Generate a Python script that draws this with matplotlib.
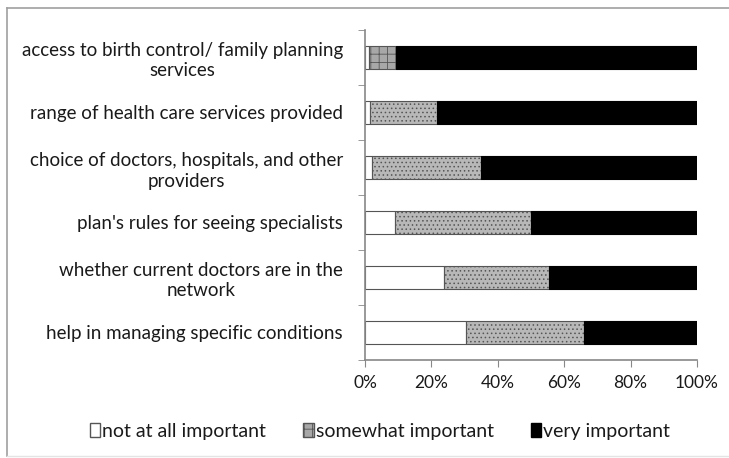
import matplotlib.pyplot as plt
from matplotlib.lines import Line2D
from matplotlib.patches import Patch

plt.rcParams['font.family'] = ['Lato', 'DejaVu Sans']
plt.rcParams['hatch.linewidth'] = 0.6

categories = ['access to birth control/ family planning\nservices',
              'range of health care services provided',
              'choice of doctors, hospitals, and other\nproviders',
              "plan's rules for seeing specialists",
              'whether current doctors are in the\nnetwork',
              'help in managing specific conditions']
not_at_all = [1.2, 1.5, 2.2, 9.0, 23.8, 30.3]
somewhat = [8.0, 20.2, 32.8, 41.0, 31.6, 35.7]
very = [90.8, 78.3, 65.0, 50.0, 44.6, 34.0]
series_names = ['not at all important', 'somewhat important', 'very important']
xticks = [0, 20, 40, 60, 80, 100]

fig = plt.figure(figsize=(7.29, 4.58), dpi=100)
ax = fig.add_axes([365 / 729, 1 - 360 / 458, 332 / 729, 330 / 458])

y = list(range(len(categories)))
h = 0.42
edge = '#555555'
ax.barh(y, not_at_all, height=h, color='white', edgecolor=edge, linewidth=0.8)
bars = ax.barh(y, somewhat, left=not_at_all, height=h, color='#b8b8b8',
               edgecolor=edge, linewidth=0.8, hatch='....')
bars[0].set_hatch('++')
bars[0].set_facecolor('#a8a8a8')
lefts = [a + b for a, b in zip(not_at_all, somewhat)]
ax.barh(y, very, left=lefts, height=h, color='black', edgecolor='black', linewidth=0.8)

ax.set_xlim(0, 100)
ax.set_ylim(len(categories) - 0.5, -0.5)
ax.set_xticks(xticks)
ax.set_xticklabels([f'{v}%' for v in xticks], fontsize=12.5, color='#1a1a1a')
ax.set_yticks(y)
ax.set_yticklabels(categories, fontsize=13.5, color='#1a1a1a', ha='right',
                   multialignment='center', linespacing=1.25)
ax.tick_params(axis='y', length=0, pad=16)
ax.set_yticks([i - 0.5 for i in range(len(categories) + 1)], minor=True)
ax.tick_params(axis='y', which='minor', length=5, color='#888888')
ax.tick_params(axis='x', length=5, color='#888888', pad=6)
for s in ['top', 'right']:
    ax.spines[s].set_visible(False)
for s in ['left', 'bottom']:
    ax.spines[s].set_color('#888888')
    ax.spines[s].set_linewidth(1.2)

handles = [Patch(facecolor='white', edgecolor=edge),
           Patch(facecolor='#a8a8a8', edgecolor=edge, hatch='++'),
           Patch(facecolor='black', edgecolor='black')]
fig.legend(handles, series_names, loc='center', bbox_to_anchor=(380 / 729, 1 - 431 / 458),
           ncol=3, frameon=False, fontsize=14, handlelength=0.55, handleheight=0.7,
           handletextpad=0.1, columnspacing=1.9, labelcolor='#1a1a1a')

# outer frame: top and left visible, faint bottom, open on the right
x0, yt, yb = 7 / 729, 1 - 8 / 458, 1 - 456 / 458
fig.add_artist(Line2D([x0, 1], [yt, yt], transform=fig.transFigure, color='#a0a0a0', lw=1.2))
fig.add_artist(Line2D([x0, x0], [yb, yt], transform=fig.transFigure, color='#a0a0a0', lw=1.2))
fig.add_artist(Line2D([x0, 1], [yb, yb], transform=fig.transFigure, color='#e4e4e4', lw=1.0))

fig.savefig('out.png', dpi=100)
